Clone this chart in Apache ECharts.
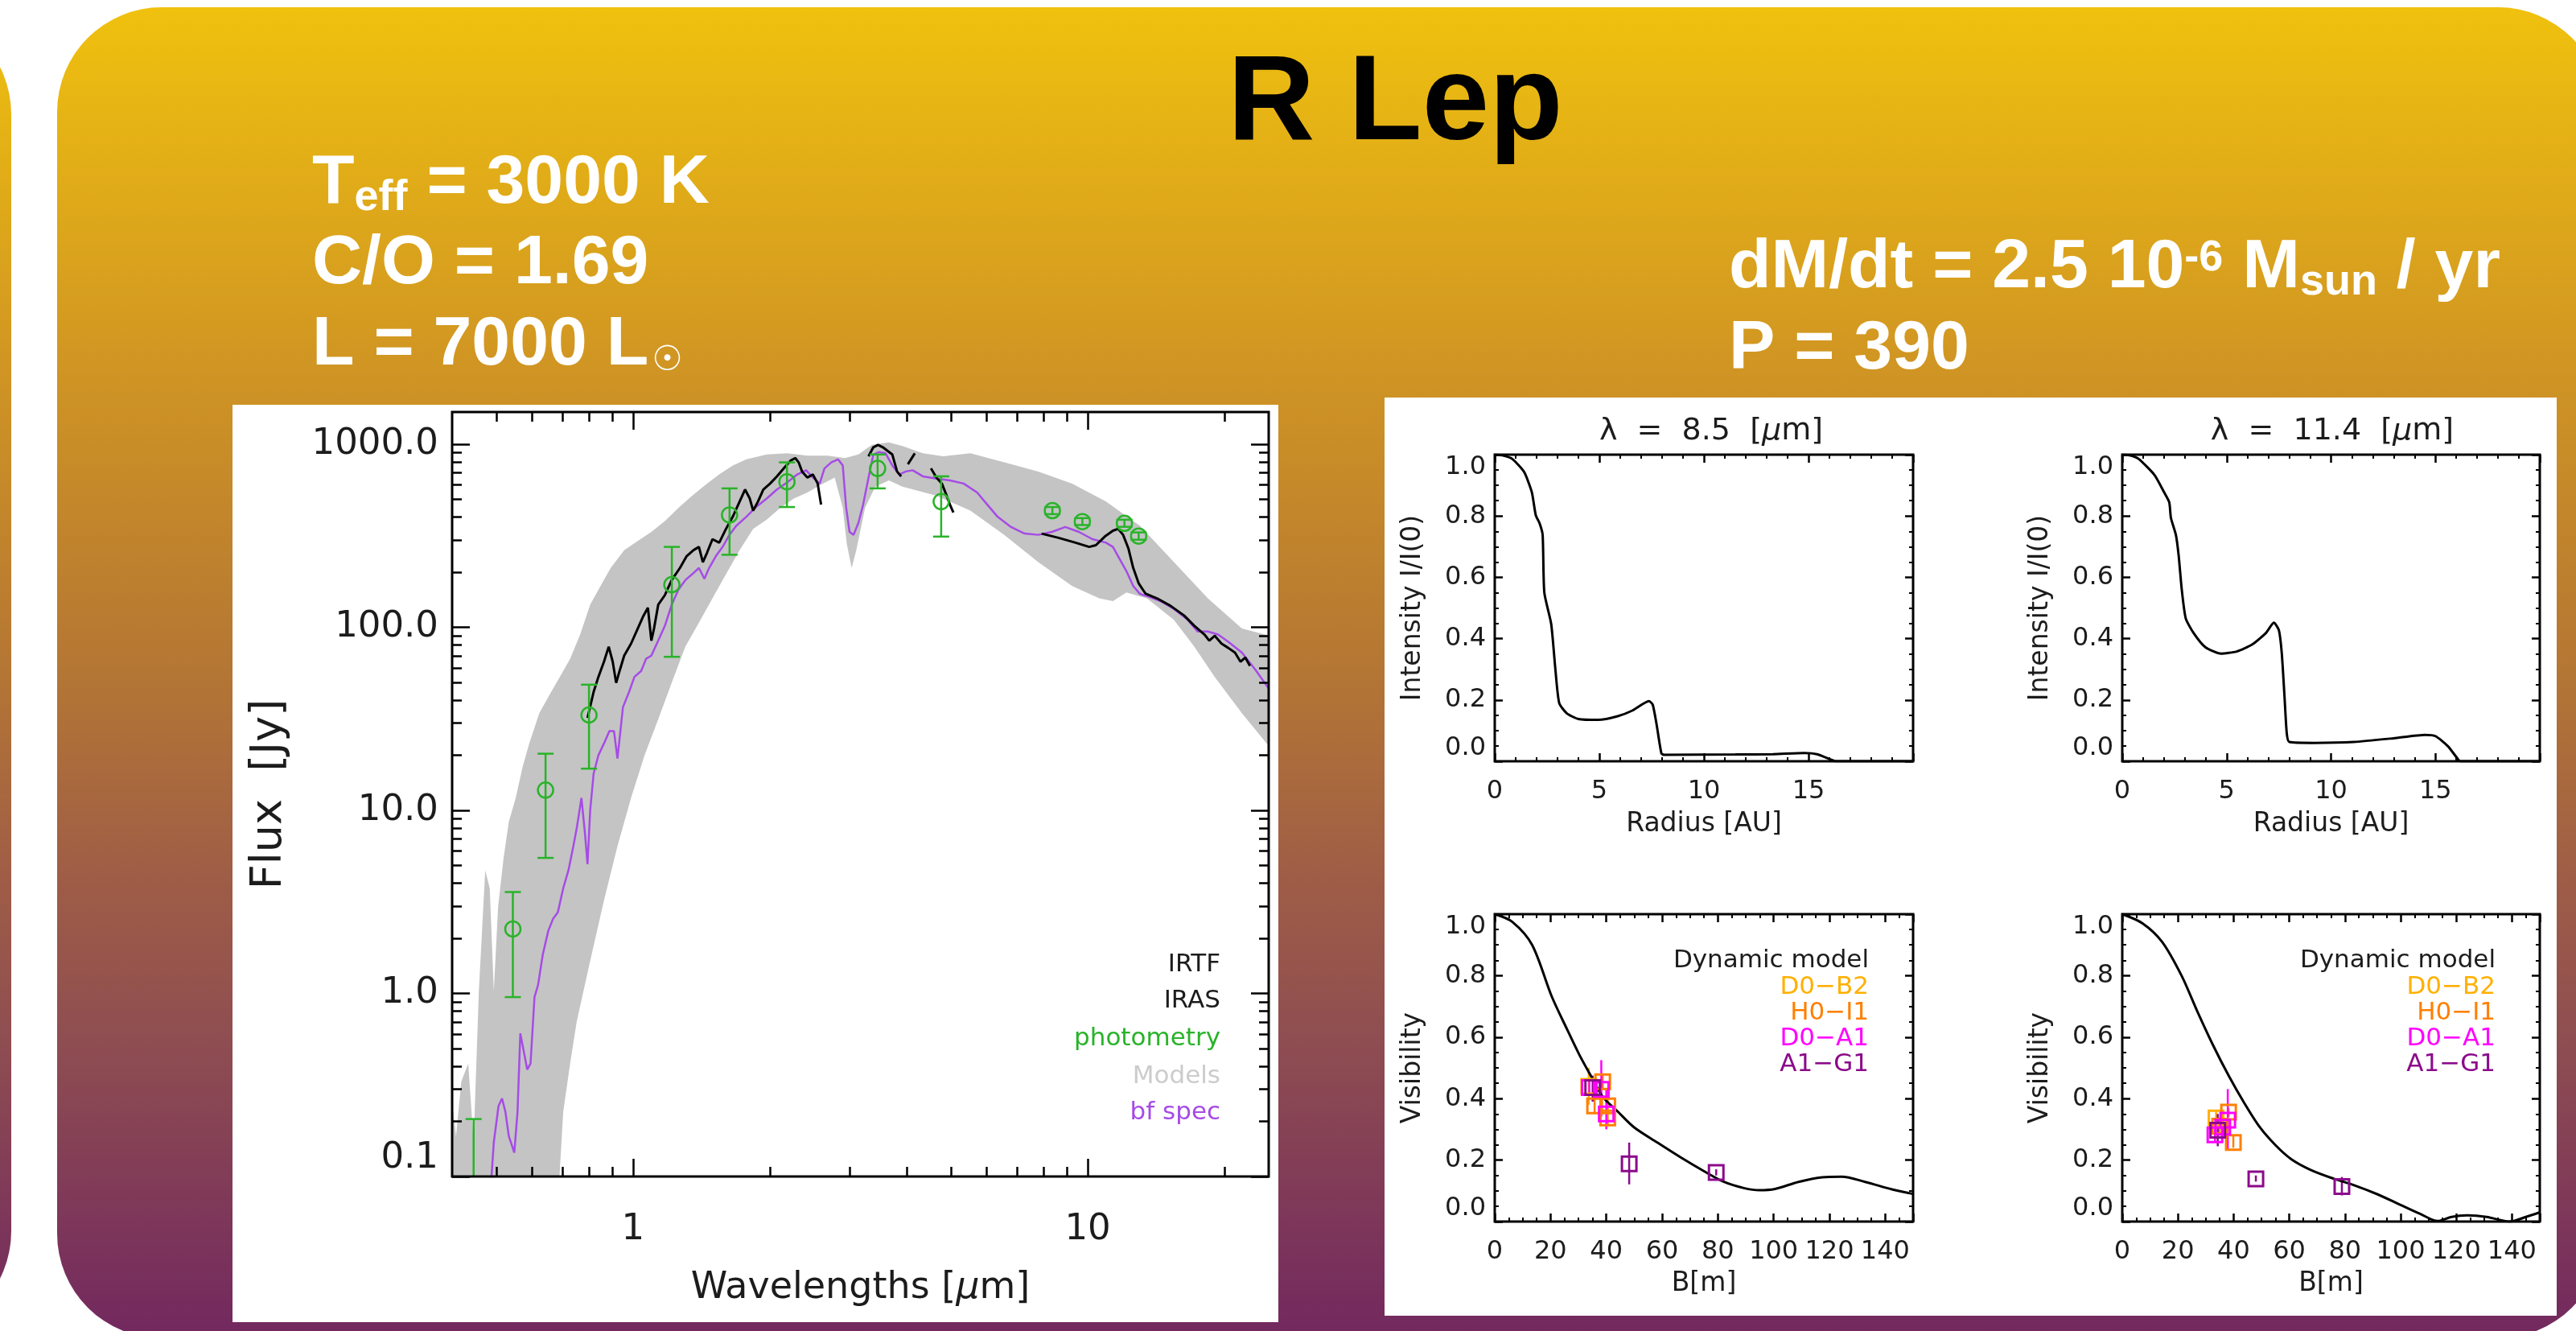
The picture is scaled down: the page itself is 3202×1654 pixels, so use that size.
<!DOCTYPE html>
<html lang="en">
<head>
<meta charset="UTF-8">
<title>R Lep</title>
<script src="https://cdn.jsdelivr.net/npm/echarts@6/dist/echarts.min.js"></script>
<style>
html, body { margin: 0; padding: 0; background: #fff; }
#main { width: 3202px; height: 1654px; }
</style>
</head>
<body>
<div id="main"></div>
<script>
// ---------- SED (wavelength in micron, flux in Jy) ----------
var sedXTicks = [1, 10];
var sedYTicks = [0.1, 1, 10, 100, 1000];

var bfWave = [0.486,0.494,0.506,0.515,0.524,0.533,0.548,0.557,0.565,0.575,0.585,0.595,0.607,0.618,0.633,0.651,0.667,0.683,0.702,0.721,0.739,0.752,0.770,0.784,0.794,0.805,0.819,0.839,0.863,0.887,0.908,0.924,0.950,0.980,1.007,1.042,1.068,1.097,1.136,1.175,1.216,1.259,1.303,1.349,1.396,1.435,1.470,1.521,1.574,1.629,1.686,1.775,1.869,1.968,2.072,2.182,2.297,2.402,2.486,2.573,2.636,2.728,2.823,2.892,2.942,2.993,3.055,3.130,3.206,3.295,3.376,3.470,3.592,3.717,3.847,3.981,4.120,4.338,4.648,4.977,5.333,5.711,6.013,6.332,6.782,7.264,7.781,8.336,8.927,9.563,10.24,10.97,11.36,11.75,12.16,12.59,13.03,13.72,14.45,15.47,16.58,17.45,18.37,19.35,20.37,21.83,23.37,25.03];
var bfFlux = [0.084,0.154,0.243,0.267,0.225,0.166,0.135,0.225,0.605,0.482,0.384,0.414,0.955,1.11,1.63,2.20,2.56,2.77,3.75,4.71,6.38,8.02,11.7,7.43,5.08,10.1,15.9,20.0,23.2,27.1,27.1,19.2,36.6,44.4,53.6,57.8,67.3,70.0,84.6,102,133,161,181,195,211,184,211,245,275,320,358,402,457,505,566,619,684,721,658,610,738,796,827,766,450,332,320,372,468,658,879,906,892,766,684,710,721,668,649,634,610,545,468,402,353,325,320,332,353,332,303,290,275,236,203,168,152,146,139,126,110,94.8,94.8,91.3,83.4,72.7,58.7,46.1];

// null = gap in the IRTF spectrum
var irtfWave = [0.794,0.819,0.839,0.863,0.884,0.902,0.918,0.934,0.956,0.990,1.024,1.053,1.078,1.097,1.112,1.136,1.175,1.216,1.268,1.312,1.358,1.396,1.424,1.454,1.495,1.547,1.601,1.657,1.715,1.763,1.806,1.837,1.882,1.934,2.002,2.072,2.145,2.220,2.274,2.313,2.353,2.418,2.486,2.547,2.591,2.9,3.295,3.376,3.458,3.542,3.628,3.717,3.807,3.887,3.95,4.022,4.165,4.3,4.520,4.648,4.777,4.893,4.977,5.064];
var irtfFlux = [32.0,44.4,53.6,64.9,78.4,64.9,49.7,57.8,70.0,81.5,98.5,115,128,84.6,98.5,133,150,181,211,245,264,275,227,255,303,290,345,402,486,566,505,434,486,566,610,668,738,814,840,796,710,658,684,610,468,null,859,963,992,963,920,879,710,668,null,778,892,null,738,658,610,524,468,424];

var irasWave = [7.916,8.627,9.400,10.07,10.42,10.90,11.36,11.67,11.96,12.29,12.59,12.94,13.39,14.20,15.21,16.29,17.15,18.06,18.50,19.02,19.68,20.37,21.08,21.67,22.20,22.74];
var irasFlux = [325,308,290,275,281,313,337,345,320,269,211,174,153,144,131,116,102,91.3,84.6,89.9,81.5,77.2,72.7,64.9,68.4,61.5];

var modelUpWave = [0.398,0.408,0.419,0.434,0.446,0.458,0.473,0.484,0.494,0.505,0.519,0.533,0.552,0.571,0.591,0.622,0.655,0.690,0.727,0.765,0.805,0.848,0.893,0.956,1.024,1.097,1.175,1.259,1.349,1.445,1.547,1.657,1.775,1.968,2.182,2.418,2.681,2.922,3.130,3.353,3.653,3.913,4.338,4.809,5.518,6.553,7.781,9.241,10.97,13.03,15.47,18.37,21.83,25.03];
var modelUpFlux = [0.283,0.166,0.330,0.414,0.154,1.03,4.71,3.75,1.03,2.99,5.48,8.65,11.7,17.1,23.2,34.0,42.7,53.6,67.3,91.3,133,168,211,264,296,332,381,450,524,601,684,766,827,879,892,866,866,840,879,992,1023,977,892,859,892,796,710,610,486,358,227,144,98.5,90];
var modelLowWave = [0.398,0.678,0.702,0.727,0.752,0.805,0.863,0.924,0.990,1.060,1.136,1.216,1.303,1.396,1.495,1.601,1.715,1.837,1.968,2.108,2.258,2.418,2.591,2.776,2.892,2.952,3.025,3.097,3.238,3.410,3.653,3.913,4.648,5.518,6.553,7.781,9.241,10.60,11.36,12.16,13.49,15.47,17.15,19.02,21.83,25.03];
var modelLowFlux = [0.05,0.05,0.225,0.414,0.705,1.51,3.22,6.38,11.7,20.0,31.5,49.7,78.4,106,144,195,264,345,387,450,505,545,601,658,450,285,211,264,450,587,634,587,524,434,320,227,168,144,139,155,144,110,78.4,53.6,34.0,22.4];

var photWave = [0.446,0.544,0.642,0.80,1.217,1.63,2.18,3.45,4.76,8.36,9.73,12.04,12.94];
var photFlux = [0.07,2.25,12.9,33.2,171,411,624,738,486,434,378,370,315];
var photLow  = [0.03,0.955,5.5,16.9,69,249,454,574,313,415,362,354,301];
var photHigh = [0.206,3.58,20.4,48.6,275,574,796,879,668,454,395,387,330];

// ---------- intensity profiles ----------
var radius85 = [0,0.4,0.84,1.4,1.77,1.96,2.15,2.29,2.37,2.7,2.89,3.08,3.45,4.0,4.94,5.88,6.6,7.37,7.55,7.74,7.97,8.1,11.5,13.3,14.8,15.4,16.1,16.3,20];
var int85 = [1.0,0.997,0.986,0.944,0.878,0.803,0.775,0.738,0.55,0.447,0.306,0.19,0.156,0.138,0.135,0.147,0.166,0.196,0.185,0.119,0.025,0.021,0.022,0.023,0.027,0.023,0.005,0.0,0.0];
var radius114 = [0,0.4,0.79,1.54,2.0,2.25,2.33,2.57,2.7,2.85,3.04,3.41,3.98,4.73,5.48,6.23,6.89,7.26,7.5,7.64,7.77,7.88,8.0,9.2,11.1,13.0,14.5,15.0,15.6,16.1,16.2,20];
var int114 = [1.0,0.997,0.986,0.934,0.878,0.845,0.794,0.738,0.672,0.56,0.466,0.419,0.372,0.351,0.358,0.381,0.419,0.452,0.428,0.353,0.213,0.091,0.063,0.06,0.063,0.075,0.086,0.082,0.049,0.005,0.0,0.0];

// ---------- visibilities ----------
var base85 = [0,6.3,13.4,20.4,26,30.2,34.4,38.7,44.3,49.9,58.3,66.8,75.2,82.2,89.3,94.9,100.5,108.9,117.4,124.4,132.8,142.7,150];
var vis85 = [1.0,0.975,0.9,0.733,0.624,0.545,0.475,0.406,0.356,0.307,0.257,0.208,0.163,0.129,0.109,0.102,0.106,0.129,0.144,0.146,0.129,0.104,0.09];
var base114 = [0,7.3,14.3,21.3,27,32.6,38.2,43.8,49.4,55.1,60.7,67.7,76.1,83.1,91.6,100,107,113.3,118.3,123.9,130.9,139.3,145,150];
var vis114 = [1.0,0.97,0.91,0.80,0.683,0.574,0.475,0.386,0.307,0.248,0.203,0.168,0.139,0.119,0.089,0.054,0.025,0.002,0.015,0.02,0.015,0.0,0.015,0.03];

// [B, V, Vlow, Vhigh]
var d0b2_85 = [[33.7,0.44,0.38,0.50]];
var h0i1_85 = [[38.7,0.455,0.43,0.48],[35.8,0.376,0.35,0.40],[40.5,0.376,0.35,0.40],[40.5,0.337,0.31,0.36]];
var d0a1_85 = [[33.9,0.436,0.41,0.46],[38.2,0.43,0.342,0.525],[40.0,0.35,0.30,0.43]];
var a1g1_85 = [[35.1,0.436,0.39,0.475],[48.2,0.188,0.121,0.257],[79.4,0.16,0.15,0.17]];
var d0b2_114 = [[33.7,0.337,0.32,0.36]];
var h0i1_114 = [[38.2,0.356,0.34,0.37],[39.9,0.257,0.24,0.28],[35.0,0.31,0.29,0.33]];
var d0a1_114 = [[33.3,0.282,0.26,0.30],[36.1,0.307,0.28,0.33],[37.9,0.33,0.233,0.431]];
var a1g1_114 = [[34.3,0.297,0.245,0.35],[48.0,0.139,0.13,0.15],[78.9,0.114,0.085,0.145]];

var baselineNames = ['D0\u2212B2', 'H0\u2212I1', 'D0\u2212A1', 'A1\u2212G1'];
var baselineColors = ['#FFB000', '#FF7F00', '#FF00FF', '#8B0A8B'];

// ---------- helpers ----------
var PLT = 'DejaVu Sans';
var HDR = 'Liberation Sans';
var INK = '#1c1c1c';
var GREEN = '#29B329';
var PURPLE = '#A64BE6';
var LG = function (v) { return Math.log10(v); };

function logPairs(xs, ys) {
    return xs.map(function (x, i) { return [LG(x), ys[i] == null ? null : LG(ys[i])]; });
}
function pairs(xs, ys) {
    return xs.map(function (x, i) { return [x, ys[i]]; });
}

var xLo = LG(0.4), xHi = LG(25), yLo = -1, yHi = LG(1500);
var majorX = sedXTicks.map(LG);
var majorY = sedYTicks.map(LG);
var minorX = [0.5, 0.6, 0.7, 0.8, 0.9, 2, 3, 4, 5, 6, 7, 8, 9, 20].map(LG);
var minorY = [];
[-1, 0, 1, 2].forEach(function (e) {
    for (var k = 2; k <= 9; k++) minorY.push(LG(k * Math.pow(10, e)));
});

function sedAxis(pos, vals, len, label, extra) {
    var isX = pos === 'bottom' || pos === 'top';
    var a = {
        type: 'value', gridIndex: 0, position: pos, z: 5,
        min: isX ? xLo : yLo, max: isX ? xHi : yHi,
        axisLine: { show: false, onZero: false },
        splitLine: { show: false },
        axisTick: { show: true, inside: true, length: len, customValues: vals,
            lineStyle: { color: '#000', width: 2.5 } },
        axisLabel: label || { show: false }
    };
    return Object.assign(a, extra || {});
}

function panelAxis(grid, pos, min, max, step, minorN, label, extra) {
    var a = {
        type: 'value', gridIndex: grid, position: pos, z: 5,
        min: min, max: max, interval: step,
        axisLine: { show: false, onZero: false },
        splitLine: { show: false },
        axisTick: { show: true, inside: true, length: 10, lineStyle: { color: '#000', width: 2.5 } },
        minorTick: { show: true, splitNumber: minorN, length: 5, lineStyle: { color: '#000', width: 2 } },
        axisLabel: label || { show: false }
    };
    return Object.assign(a, extra || {});
}

function nameStyle(size) {
    return { fontFamily: PLT, fontSize: size, color: INK,
        rich: { i: { fontFamily: PLT, fontSize: size, color: INK, fontStyle: 'italic' } } };
}

var yPanelLabel = { margin: 11, fontFamily: PLT, fontSize: 32, color: INK,
    verticalAlignMaxLabel: 'top', verticalAlignMinLabel: 'bottom',
    formatter: function (v) { return v.toFixed(1); } };
var xIntLabel = { margin: 22, fontFamily: PLT, fontSize: 32, color: INK,
    formatter: function (v) { return v >= 20 ? '' : String(v); } };
var xVisLabel = { margin: 22, fontFamily: PLT, fontSize: 32, color: INK,
    formatter: function (v) { return v > 140 ? '' : String(v); } };

var grids = [
    { left: 562, top: 512, width: 1015, height: 950 },
    { left: 1858, top: 565, width: 520, height: 381 },
    { left: 2638, top: 565, width: 519, height: 381 },
    { left: 1858, top: 1136, width: 520, height: 382 },
    { left: 2638, top: 1136, width: 519, height: 382 }
].map(function (g) {
    return Object.assign(g, { show: true, z: 5, borderColor: '#000', borderWidth: 3, backgroundColor: 'transparent' });
});

var xAxes = [
    sedAxis('bottom', majorX, 22, { customValues: majorX, margin: 44, fontFamily: PLT, fontSize: 45, color: INK,
        formatter: function (v) { return String(Math.round(Math.pow(10, v))); } },
        { name: 'Wavelengths [{i|\u03bc}m]', nameLocation: 'middle', nameGap: 116, nameTextStyle: nameStyle(46) }),
    sedAxis('bottom', minorX, 12),
    sedAxis('top', majorX, 22),
    sedAxis('top', minorX, 12)
];
var yAxes = [
    sedAxis('left', majorY, 22, { customValues: majorY, margin: 17, fontFamily: PLT, fontSize: 45, color: INK,
        verticalAlignMinLabel: 'bottom',
        formatter: function (v) { return Math.pow(10, v).toFixed(1); } },
        { name: 'Flux  [Jy]', nameLocation: 'middle', nameGap: 200, nameTextStyle: nameStyle(54) }),
    sedAxis('left', minorY, 12),
    sedAxis('right', majorY, 22),
    sedAxis('right', minorY, 12)
];

// intensity panels (grids 1, 2) and visibility panels (grids 3, 4)
[1, 2].forEach(function (g) {
    xAxes.push(panelAxis(g, 'bottom', 0, 20, 5, 5, xIntLabel,
        { name: 'Radius [AU]', nameLocation: 'middle', nameGap: 62, nameTextStyle: nameStyle(33) }));
    xAxes.push(panelAxis(g, 'top', 0, 20, 5, 5));
    yAxes.push(panelAxis(g, 'left', 0, 1, 0.2, 4, yPanelLabel,
        { name: 'Intensity I/I(0)', nameLocation: 'middle', nameGap: 85, nameTextStyle: nameStyle(33) }));
    yAxes.push(panelAxis(g, 'right', 0, 1, 0.2, 4));
});
[3, 4].forEach(function (g) {
    xAxes.push(panelAxis(g, 'bottom', 0, 150, 20, 4, xVisLabel,
        { name: 'B[m]', nameLocation: 'middle', nameGap: 61, nameTextStyle: nameStyle(33) }));
    xAxes.push(panelAxis(g, 'top', 0, 150, 20, 4));
    yAxes.push(panelAxis(g, 'left', 0, 1, 0.2, 4, yPanelLabel,
        { name: 'Visibility', nameLocation: 'middle', nameGap: 85, nameTextStyle: nameStyle(33) }));
    yAxes.push(panelAxis(g, 'right', 0, 1, 0.2, 4));
});

function clipRect(params) {
    var cs = params.coordSys;
    return { type: 'rect', shape: { x: cs.x, y: cs.y, width: cs.width, height: cs.height } };
}

var series = [
    {   // grey band of models
        type: 'custom', xAxisIndex: 0, yAxisIndex: 0, z: 1, clip: true, silent: true,
        data: [[0, 0]],
        renderItem: function (params, api) {
            var pts = [];
            for (var i = 0; i < modelUpWave.length; i++) pts.push(api.coord([LG(modelUpWave[i]), LG(modelUpFlux[i])]));
            for (var j = modelLowWave.length - 1; j >= 0; j--) pts.push(api.coord([LG(modelLowWave[j]), LG(modelLowFlux[j])]));
            return { type: 'polygon', shape: { points: pts }, style: { fill: '#C4C4C4' }, clipPath: clipRect(params) };
        }
    },
    { type: 'line', name: 'bf spec', xAxisIndex: 0, yAxisIndex: 0, z: 2, showSymbol: false,
      data: logPairs(bfWave, bfFlux), lineStyle: { color: PURPLE, width: 2.5 } },
    { type: 'line', name: 'IRTF', xAxisIndex: 0, yAxisIndex: 0, z: 3, showSymbol: false, connectNulls: false,
      data: logPairs(irtfWave, irtfFlux), lineStyle: { color: '#000', width: 3 } },
    { type: 'line', name: 'IRAS', xAxisIndex: 0, yAxisIndex: 0, z: 3, showSymbol: false,
      data: logPairs(irasWave, irasFlux), lineStyle: { color: '#000', width: 3 } },
    {   // photometry error bars
        type: 'custom', xAxisIndex: 0, yAxisIndex: 0, z: 4, clip: true,
        data: photWave.map(function (w, i) { return [LG(w), LG(photFlux[i]), LG(photLow[i]), LG(photHigh[i])]; }),
        renderItem: function (params, api) {
            var lo = api.coord([api.value(0), api.value(2)]);
            var hi = api.coord([api.value(0), api.value(3)]);
            var st = { stroke: GREEN, lineWidth: 2.5 };
            return { type: 'group', clipPath: clipRect(params), children: [
                { type: 'line', shape: { x1: lo[0], y1: lo[1], x2: hi[0], y2: hi[1] }, style: st },
                { type: 'line', shape: { x1: lo[0] - 10, y1: lo[1], x2: lo[0] + 10, y2: lo[1] }, style: st },
                { type: 'line', shape: { x1: hi[0] - 10, y1: hi[1], x2: hi[0] + 10, y2: hi[1] }, style: st }
            ] };
        }
    },
    { type: 'scatter', name: 'photometry', xAxisIndex: 0, yAxisIndex: 0, z: 4, symbol: 'circle', symbolSize: 19,
      data: photWave.map(function (w, i) { return [LG(w), LG(photFlux[i])]; }),
      itemStyle: { color: 'transparent', borderColor: GREEN, borderWidth: 2.5, opacity: 1 } },

    { type: 'line', xAxisIndex: 4, yAxisIndex: 4, showSymbol: false, smooth: 0.2,
      data: pairs(radius85, int85), lineStyle: { color: '#000', width: 3 } },
    { type: 'line', xAxisIndex: 6, yAxisIndex: 6, showSymbol: false, smooth: 0.2,
      data: pairs(radius114, int114), lineStyle: { color: '#000', width: 3 } },
    { type: 'line', name: 'Dynamic model', xAxisIndex: 8, yAxisIndex: 8, showSymbol: false, smooth: 0.3,
      data: pairs(base85, vis85), lineStyle: { color: '#000', width: 3 } },
    { type: 'line', name: 'Dynamic model', xAxisIndex: 10, yAxisIndex: 10, showSymbol: false, smooth: 0.3,
      data: pairs(base114, vis114), lineStyle: { color: '#000', width: 3 } }
];

function visSeries(axisIdx, pts, color) {
    return [
        { type: 'custom', xAxisIndex: axisIdx, yAxisIndex: axisIdx, z: 3, clip: true, data: pts,
          renderItem: function (params, api) {
              var a = api.coord([api.value(0), api.value(2)]);
              var b = api.coord([api.value(0), api.value(3)]);
              return { type: 'line', shape: { x1: a[0], y1: a[1], x2: b[0], y2: b[1] },
                       style: { stroke: color, lineWidth: 2.5 } };
          } },
        { type: 'scatter', xAxisIndex: axisIdx, yAxisIndex: axisIdx, z: 4, symbol: 'rect', symbolSize: 18,
          data: pts.map(function (p) { return [p[0], p[1]]; }),
          itemStyle: { color: 'transparent', borderColor: color, borderWidth: 3, opacity: 1 } }
    ];
}
[[8, [d0b2_85, h0i1_85, d0a1_85, a1g1_85]], [10, [d0b2_114, h0i1_114, d0a1_114, a1g1_114]]].forEach(function (set) {
    set[1].forEach(function (pts, k) {
        series = series.concat(visSeries(set[0], pts, baselineColors[k]));
    });
});

// ---------- background, boxes and texts ----------
var panelFill = { type: 'linear', x: 0, y: 0, x2: 0, y2: 1, colorStops: [
    { offset: 0, color: '#F0C10E' },
    { offset: 0.27, color: '#D09523' },
    { offset: 0.5, color: '#B47634' },
    { offset: 0.66, color: '#9E5C47' },
    { offset: 0.78, color: '#8E4D51' },
    { offset: 1, color: '#72285F' }
] };

function txt(x, y, text, size, color, align, family, extra) {
    return { type: 'text', x: x, y: y, z: 10, silent: true,
        style: Object.assign({ text: text, fill: color, fontSize: size, fontFamily: family || PLT,
            align: align || 'left', verticalAlign: 'middle' }, extra || {}) };
}

var big = { fill: '#fff', fontFamily: HDR, fontWeight: 'bold', fontSize: 86, verticalAlign: 'middle' };
var sub = { fill: '#fff', fontFamily: HDR, fontWeight: 'bold', fontSize: 54, verticalAlign: 'middle', padding: [37, 0, 0, 0] };
var sup = { fill: '#fff', fontFamily: HDR, fontWeight: 'bold', fontSize: 54, verticalAlign: 'middle', padding: [0, 0, 24, 0] };
var sol = { fill: '#fff', fontFamily: 'DejaVu Sans', fontSize: 43, verticalAlign: 'middle', padding: [39, 0, 0, 4] };
var headRich = { m: big, s: sub, p: sup, o: sol };

var titleRich = { a: { fontFamily: PLT, fontSize: 38, fill: INK },
                  i: { fontFamily: PLT, fontSize: 38, fill: INK, fontStyle: 'italic' } };

var graphics = [
    { type: 'rect', z: -10, silent: true, shape: { x: -300, y: 12, width: 314, height: 1648, r: 130 }, style: { fill: panelFill } },
    { type: 'rect', z: -10, silent: true, shape: { x: 71, y: 9, width: 3164, height: 1654, r: 130 }, style: { fill: panelFill } },
    { type: 'rect', z: -9, silent: true, shape: { x: 289, y: 503, width: 1300, height: 1140 }, style: { fill: '#fff' } },
    { type: 'rect', z: -9, silent: true, shape: { x: 1721, y: 494, width: 1457, height: 1141 }, style: { fill: '#fff' } },

    txt(1526, 132, 'R Lep', 150, '#000', 'left', HDR, { fontWeight: 'bold' }),
    txt(388, 228, '{m|T}{s|eff}{m| = 3000 K}', 86, '#fff', 'left', HDR, { rich: headRich }),
    txt(388, 328, '{m|C/O = 1.69}', 86, '#fff', 'left', HDR, { rich: headRich }),
    txt(388, 429, '{m|L = 7000 L}{o|\u2609}', 86, '#fff', 'left', HDR, { rich: headRich }),
    txt(2149, 333, '{m|dM/dt = 2.5 10}{p|-6}{m| M}{s|sun}{m| / yr}', 86, '#fff', 'left', HDR, { rich: headRich }),
    txt(2149, 434, '{m|P = 390}', 86, '#fff', 'left', HDR, { rich: headRich }),

    txt(1517, 1199, 'IRTF', 31, INK, 'right'),
    txt(1517, 1244, 'IRAS', 31, INK, 'right'),
    txt(1517, 1291, 'photometry', 31, GREEN, 'right'),
    txt(1517, 1338, 'Models', 31, '#CCCCCC', 'right'),
    txt(1517, 1383, 'bf spec', 31, PURPLE, 'right'),

    txt(2127, 536, '{a|\u03bb  =  8.5  [}{i|\u03bc}{a|m]}', 38, INK, 'center', PLT, { rich: titleRich }),
    txt(2899, 536, '{a|\u03bb  =  11.4  [}{i|\u03bc}{a|m]}', 38, INK, 'center', PLT, { rich: titleRich })
];

[2323, 3102].forEach(function (xr) {
    graphics.push(txt(xr, 1194, 'Dynamic model', 31, INK, 'right'));
    baselineNames.forEach(function (n, k) {
        graphics.push(txt(xr, 1227 + 32 * k, n, 31, baselineColors[k], 'right'));
    });
});

var myChart = echarts.init(document.getElementById('main'));
myChart.setOption({
    animation: false,
    backgroundColor: '#fff',
    grid: grids,
    xAxis: xAxes,
    yAxis: yAxes,
    series: series,
    graphic: graphics
});
</script>
</body>
</html>
